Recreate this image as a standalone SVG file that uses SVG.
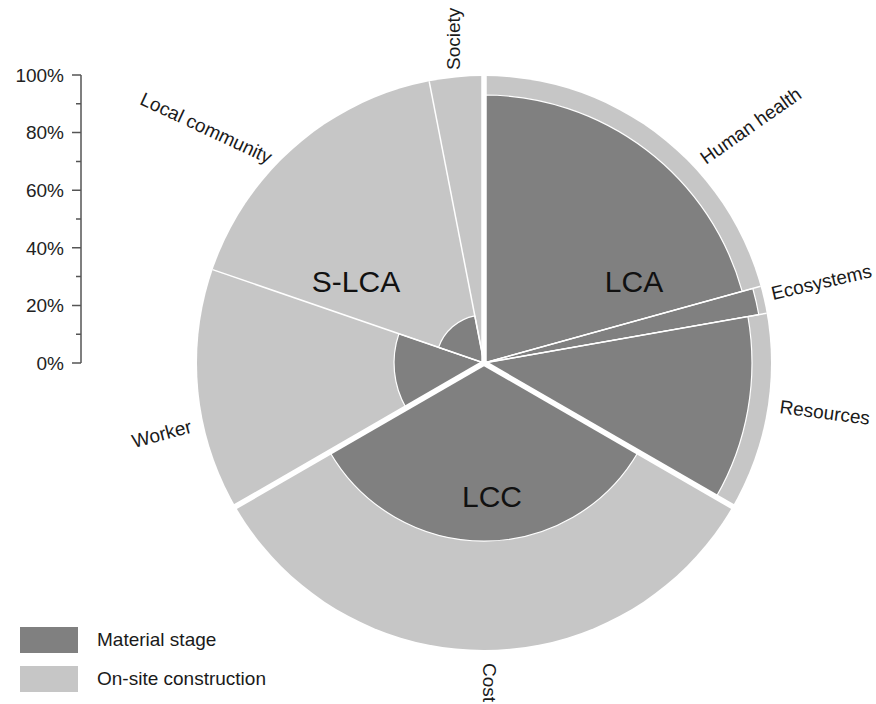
<svg xmlns="http://www.w3.org/2000/svg" width="876" height="704" viewBox="0 0 876 704">
<style>
text{font-family:"Liberation Sans",Arial,Helvetica,sans-serif;fill:#1a1a1a}
.lab{font-size:19px}
.grp{font-size:30px;text-anchor:middle;fill:#111}
.tick{font-size:19px;text-anchor:end;fill:#222}
.light{fill:#c6c6c6}
.dark{fill:#808080;stroke:#fff;stroke-width:1.2;stroke-linejoin:round}
.sep{stroke:#fff;stroke-width:1.5;fill:none}
.gap{stroke:#fff;stroke-width:5.5;fill:none}
.ax{stroke:#555;stroke-width:1.5;fill:none}
</style>
<rect width="876" height="704" fill="#fff"/>
<circle id="outer" class="light" cx="484" cy="363" r="287"/>
<g id="lca">
<path id="human-health" class="dark" d="M484,363 L484,95 A268,268 0 0 1 742.2,291.4 Z"/>
<path id="ecosystems" class="dark" d="M484,363 L752.8,288.5 A279,279 0 0 1 758.8,314.6 Z"/>
<path id="resources" class="dark" d="M484,363 L747.9,316.5 A268,268 0 0 1 716.1,497 Z"/>
<text class="grp" x="634" y="292">LCA</text>
</g>
<g id="lcc">
<path id="cost" class="dark" d="M484,363 L638.2,452 A178,178 0 0 1 329.8,452 Z"/>
<text class="grp" x="492" y="507">LCC</text>
</g>
<g id="slca">
<path id="worker" class="dark" d="M484,363 L406.1,408 A90,90 0 0 1 398.9,333.7 Z"/>
<path id="local-community" class="dark" d="M484,363 L438.6,347.4 A48,48 0 0 1 474.8,315.9 Z"/>
<text class="grp" x="356" y="292">S-LCA</text>
</g>
<g id="connectors">
<line class="sep" x1="484" y1="363" x2="760.6" y2="286.3"/>
<line class="sep" x1="484" y1="363" x2="766.6" y2="313.2"/>
<line class="sep" x1="484" y1="363" x2="212.6" y2="269.6"/>
<line class="sep" x1="484" y1="363" x2="429.2" y2="81.3"/>
<line class="gap" x1="484" y1="363" x2="484" y2="72"/>
<line class="gap" x1="484" y1="363" x2="735" y2="508"/>
<line class="gap" x1="484" y1="363" x2="233" y2="508"/>
</g>
<g id="labels">
<text class="lab" transform="translate(460,70) rotate(-90)">Society</text>
<text class="lab" transform="translate(706,165) rotate(-35)">Human health</text>
<text class="lab" transform="translate(773,300) rotate(-13)">Ecosystems</text>
<text class="lab" transform="translate(779,413) rotate(7.5)">Resources</text>
<text class="lab" transform="translate(483,663) rotate(90)">Cost</text>
<text class="lab" transform="translate(134,448) rotate(-15)">Worker</text>
<text class="lab" text-anchor="end" transform="translate(268,164) rotate(25)">Local community</text>
</g>
<g id="axis">
<path class="ax" d="M81,75 V363 M72,75 H81 M72,132.6 H81 M72,190.2 H81 M72,247.8 H81 M72,305.4 H81 M72,363 H81 M76,103.8 H81 M76,161.4 H81 M76,219 H81 M76,276.6 H81 M76,334.2 H81"/>
<text class="tick" x="64" y="81.8">100%</text>
<text class="tick" x="64" y="139.4">80%</text>
<text class="tick" x="64" y="197">60%</text>
<text class="tick" x="64" y="254.6">40%</text>
<text class="tick" x="64" y="312.2">20%</text>
<text class="tick" x="64" y="369.8">0%</text>
</g>
<g id="legend">
<rect x="20" y="627" width="58" height="26" fill="#808080"/>
<rect x="20" y="666" width="58" height="26" fill="#c6c6c6"/>
<text class="lab" x="97" y="646">Material stage</text>
<text class="lab" x="97" y="685">On-site construction</text>
</g>
</svg>
